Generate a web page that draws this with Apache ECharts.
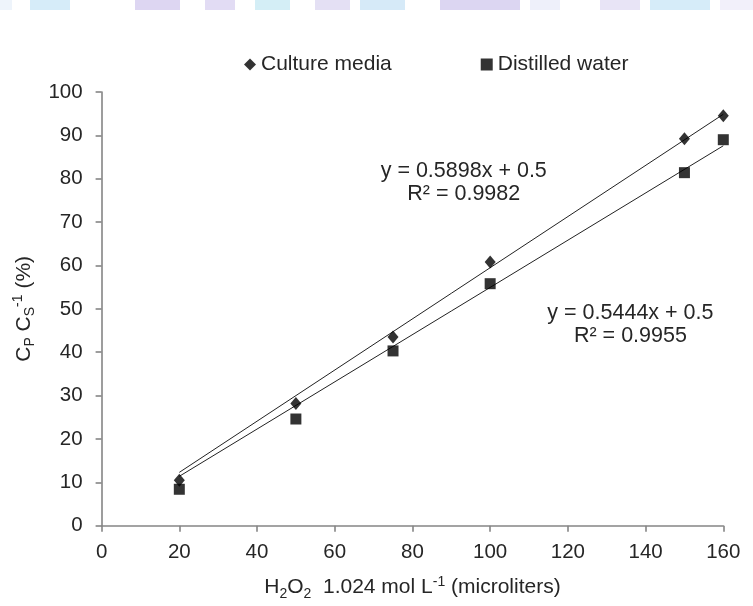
<!DOCTYPE html>
<html><head><meta charset="utf-8">
<script src="https://cdn.jsdelivr.net/npm/echarts@6/dist/echarts.min.js"></script>
<style>html,body{margin:0;padding:0;background:#fff}#c{width:753px;height:606px}</style>
</head><body><div id="c"></div>
<script>
const xValues = [20, 50, 75, 100, 150, 160];
const cultureMedia = [10.5, 28.2, 43.5, 60.8, 89.2, 94.5];
const distilledWater = [8.4, 24.6, 40.3, 55.8, 81.4, 89.0];
const seriesNames = ['Culture media', 'Distilled water'];
const trendSlopes = [0.5898, 0.5444];
const trendIntercepts = [0.5, 0.5];
const trendRange = [20, 160];
const eqLabels = ['y = 0.5898x + 0.5', 'y = 0.5444x + 0.5'];
const r2Labels = ['R² = 0.9982', 'R² = 0.9955'];

const font = 'Liberation Sans, Arial, sans-serif';
const txt = '#262626';
const chart = echarts.init(document.getElementById('c'));
const pts = (ys) => xValues.map((x, i) => [x, ys[i]]);
const trend = (k) => trendRange.map(x => [x, trendSlopes[k] * x + trendIntercepts[k]]);

const banner = [[0,12,'#eef4fb'],[30,40,'#d6ecf9'],[135,45,'#ddd6f2'],[205,30,'#e2dcf4'],[255,35,'#d4eef6'],[315,35,'#e4e0f4'],[360,45,'#d6eaf8'],[440,80,'#dcd6f2'],[530,30,'#eef0fa'],[600,40,'#e8e4f6'],[650,60,'#d6ecf9'],[720,33,'#f2f0fa']];

const richName = {
  n: { fontSize: 21, color: txt, fontFamily: font, lineHeight: 26 },
  s: { fontSize: 14, color: txt, fontFamily: font, lineHeight: 14, verticalAlign: 'bottom' },
  p: { fontSize: 14, color: txt, fontFamily: font, lineHeight: 14, verticalAlign: 'top' }
};

chart.setOption({
  animation: false,
  backgroundColor: '#fff',
  textStyle: { fontFamily: font },
  graphic: banner.map(b => ({ type: 'rect', shape: { x: b[0], y: 0, width: b[1], height: 10 }, style: { fill: b[2] }, silent: true })),
  legend: {
    top: 49, left: 239, itemGap: 89, itemWidth: 12, itemHeight: 12,
    textStyle: { fontSize: 21, color: txt, fontFamily: font },
    data: [{ name: seriesNames[0], icon: 'diamond' }, { name: seriesNames[1], icon: 'rect' }]
  },
  grid: { left: 101.6, right: 29.7, top: 92, bottom: 80.3 },
  xAxis: {
    type: 'value', min: 0, max: 160, interval: 20,
    splitLine: { show: false },
    axisLine: { lineStyle: { color: '#858585', width: 1.6 } },
    axisTick: { show: true, length: 6, lineStyle: { color: '#858585', width: 1.6 } },
    axisLabel: { fontSize: 20.5, color: txt, margin: 16, fontFamily: font },
    name: '{n|H}{s|2}{n|O}{s|2}{n|  1.024 mol L}{p|-1}{n| (microliters)}',
    nameLocation: 'middle', nameGap: 49,
    nameTextStyle: { rich: richName }
  },
  yAxis: {
    type: 'value', min: 0, max: 100, interval: 10,
    splitLine: { show: false },
    axisLine: { show: true, lineStyle: { color: '#858585', width: 1.6 } },
    axisTick: { show: true, length: 6, lineStyle: { color: '#858585', width: 1.6 } },
    axisLabel: { fontSize: 20.5, color: txt, margin: 19, fontFamily: font },
    name: '{n|C}{s|P}{n| C}{s|S}{p|-1}{n| (%)}',
    nameLocation: 'middle', nameGap: 60, nameRotate: 90,
    nameTextStyle: { rich: richName }
  },
  series: [
    { name: seriesNames[0], type: 'scatter', symbol: 'diamond', symbolSize: [11, 13], itemStyle: { color: '#000' }, data: pts(cultureMedia), z: 5 },
    { name: seriesNames[1], type: 'scatter', symbol: 'rect', symbolSize: 11, itemStyle: { color: '#000' }, data: pts(distilledWater), z: 5 },
    { name: 't1', type: 'line', data: trend(0), symbol: 'none', lineStyle: { color: '#222', width: 1 }, silent: true,
      markPoint: { symbol: 'circle', symbolSize: 0, data: [
        { coord: [93.2, 79.0], label: { show: true, formatter: eqLabels[0] + '\n' + r2Labels[0], fontSize: 21.5, color: txt, lineHeight: 23, align: 'center', fontFamily: font } }
      ] } },
    { name: 't2', type: 'line', data: trend(1), symbol: 'none', lineStyle: { color: '#222', width: 1 }, silent: true,
      markPoint: { symbol: 'circle', symbolSize: 0, data: [
        { coord: [136.1, 46.3], label: { show: true, formatter: eqLabels[1] + '\n' + r2Labels[1], fontSize: 21.5, color: txt, lineHeight: 23, align: 'center', fontFamily: font } }
      ] } }
  ]
});
</script></body></html>
